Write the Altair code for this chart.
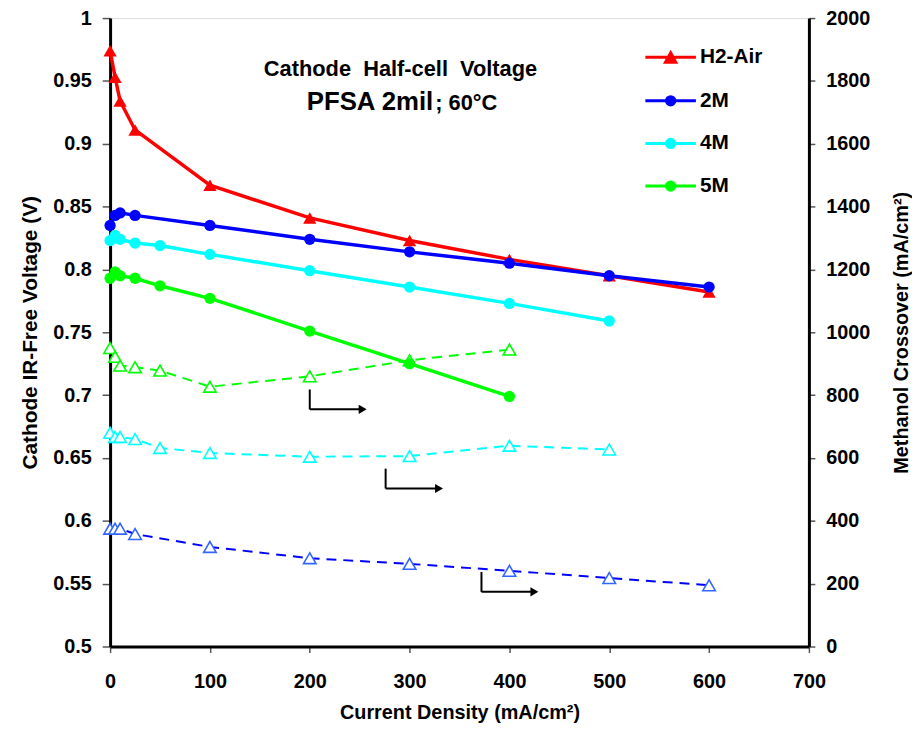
import altair as alt
import pandas as pd

FONT = "Liberation Sans"

series_names = ["H2-Air", "2M", "4M", "5M"]
series_colors = ["#FF0000", "#0000FF", "#00FFFF", "#00FF00"]
crossover_marker_colors = {"2M": "#3366FF", "4M": "#00FFFF", "5M": "#00FF00"}

# Cathode IR-free voltage (V) -- left axis
h2_current = [0, 5, 10, 25, 100, 200, 300, 400, 500, 600]
h2_voltage = [0.974, 0.953, 0.934, 0.911, 0.867, 0.841, 0.823, 0.808, 0.795, 0.782]
m2_current = [0, 5, 10, 25, 100, 200, 300, 400, 500, 600]
m2_voltage = [0.835, 0.843, 0.845, 0.843, 0.835, 0.824, 0.814, 0.805, 0.795, 0.786]
m4_current = [0, 5, 10, 25, 50, 100, 200, 300, 400, 500]
m4_voltage = [0.823, 0.827, 0.824, 0.821, 0.819, 0.812, 0.799, 0.786, 0.773, 0.759]
m5_current = [0, 5, 10, 25, 50, 100, 200, 300, 400]
m5_voltage = [0.793, 0.798, 0.795, 0.793, 0.787, 0.777, 0.751, 0.725, 0.699]

# Methanol crossover (mA/cm2) -- right axis
x2_current = [0, 5, 10, 25, 100, 200, 300, 400, 500, 600]
x2_crossover = [375, 375, 375, 358, 317, 281, 263, 241, 218, 195]
x4_current = [0, 5, 10, 25, 50, 100, 200, 300, 400, 500]
x4_crossover = [680, 667, 667, 660, 632, 616, 604, 606, 639, 627]
x5_current = [0, 5, 10, 25, 50, 100, 200, 300, 400]
x5_crossover = [950, 922, 894, 889, 878, 827, 860, 911, 945]

# "read on right axis" arrows (voltage-axis coordinates)
arrow_series = ["5M", "4M", "2M"]
arrow_x = [200, 276, 372]
arrow_top = [0.7045, 0.6415, 0.5593]
arrow_bottom = [0.6887, 0.6257, 0.5435]
arrow_end = [253, 329.5, 425]

x_ticks = [0, 100, 200, 300, 400, 500, 600, 700]
v_ticks = [0.5, 0.55, 0.6, 0.65, 0.7, 0.75, 0.8, 0.85, 0.9, 0.95, 1.0]
c_ticks = [0, 200, 400, 600, 800, 1000, 1200, 1400, 1600, 1800, 2000]

title_line1 = "Cathode\u00a0 Half-cell\u00a0 Voltage"
title_line2a = "PFSA 2mil"
title_line2b = "; 60°C"

color_of = dict(zip(series_names, series_colors))

volt = pd.concat([
    pd.DataFrame({"series": "H2-Air", "current": h2_current, "voltage": h2_voltage}),
    pd.DataFrame({"series": "2M", "current": m2_current, "voltage": m2_voltage}),
    pd.DataFrame({"series": "4M", "current": m4_current, "voltage": m4_voltage}),
    pd.DataFrame({"series": "5M", "current": m5_current, "voltage": m5_voltage}),
], ignore_index=True)
volt["col"] = volt["series"].map(color_of)

xo = pd.concat([
    pd.DataFrame({"series": "2M", "current": x2_current, "crossover": x2_crossover}),
    pd.DataFrame({"series": "4M", "current": x4_current, "crossover": x4_crossover}),
    pd.DataFrame({"series": "5M", "current": x5_current, "crossover": x5_crossover}),
], ignore_index=True)
xo["col"] = xo["series"].map(color_of)
xo["mcol"] = xo["series"].map(crossover_marker_colors)

arrows = pd.DataFrame({"series": arrow_series, "x0": arrow_x, "ytop": arrow_top,
                       "ybot": arrow_bottom, "xend": arrow_end})

lab = dict(labelFont=FONT, labelFontSize=20, labelFontWeight="bold", labelColor="black",
           titleFont=FONT, titleFontWeight="bold", titleColor="black",
           domainColor="black", domainWidth=3, tickColor="#555555", tickWidth=1.5,
           grid=False, labelOverlap=False)

x_enc = alt.X("current:Q", scale=alt.Scale(domain=[0, 700], nice=False),
              axis=alt.Axis(title="Current Density (mA/cm²)", values=x_ticks, format="d",
                            tickSize=6, labelPadding=35, labelBaseline="alphabetic",
                            labelFlush=False, titleBaseline="alphabetic", titleY=73,
                            titleFontSize=20, **lab))
y_v = alt.Y("voltage:Q", scale=alt.Scale(domain=[0.5, 1.0], nice=False, zero=False),
            axis=alt.Axis(orient="left", title="Cathode IR-Free Voltage (V)", values=v_ticks,
                          format="~g", tickSize=8, labelPadding=11, titleAngle=270,
                          titleBaseline="alphabetic", titleX=-74, titleY=317,
                          titleFontSize=21, **lab))
y_c = alt.Y("crossover:Q", scale=alt.Scale(domain=[0, 2000], nice=False),
            axis=alt.Axis(orient="right", title="Methanol Crossover  (mA/cm²)", values=c_ticks,
                          format="d", tickSize=6, labelPadding=11, titleAngle=270,
                          titleBaseline="alphabetic", titleX=99, titleY=317,
                          titleFontSize=20, **lab))

col_enc = alt.Color("col:N", scale=None)

# ---- right-axis layer (crossover, dashed, open triangles)
xo_line = alt.Chart(xo).mark_line(strokeWidth=2, strokeDash=[10, 7]).encode(
    x=x_enc, y=y_c, color=col_enc, detail="series:N")
xo_pts = alt.Chart(xo).mark_point(shape="triangle-up", size=160, strokeWidth=1.6,
                                  filled=False, fill="white", opacity=1).encode(
    x=x_enc, y=y_c, stroke=alt.Stroke("mcol:N", scale=None))
right_layer = alt.layer(xo_line, xo_pts)

# ---- left-axis layer (voltage)
v_line = alt.Chart(volt).mark_line(strokeWidth=3.5).encode(
    x=x_enc, y=y_v, color=col_enc, detail="series:N")
v_tri = alt.Chart(volt).transform_filter("datum.series == 'H2-Air'").mark_point(
    shape="triangle-up", size=180, filled=True, opacity=1).encode(x=x_enc, y=y_v, color=col_enc)
v_circ = alt.Chart(volt).transform_filter("datum.series != 'H2-Air'").mark_point(
    shape="circle", size=130, filled=True, opacity=1).encode(x=x_enc, y=y_v, color=col_enc)

arr_v = alt.Chart(arrows).mark_rule(color="black", strokeWidth=2).encode(
    x=alt.X("x0:Q"), y=alt.Y("ytop:Q"), y2="ybot:Q")
arr_h = alt.Chart(arrows).mark_rule(color="black", strokeWidth=2).encode(
    x=alt.X("x0:Q"), x2="xend:Q", y=alt.Y("ybot:Q"))
arr_head = alt.Chart(arrows).mark_point(shape="triangle-right", size=85, filled=True,
                                        color="black", opacity=1).encode(
    x=alt.X("xend:Q"), y=alt.Y("ybot:Q"))

t1 = alt.Chart(pd.DataFrame({"t": [title_line1]})).mark_text(
    font=FONT, fontSize=22, fontWeight="bold", color="black", align="center",
    baseline="alphabetic").encode(text="t:N", x=alt.value(293), y=alt.value(58))
t2 = alt.Chart(pd.DataFrame({"t": [title_line2a]})).mark_text(
    font=FONT, fontSize=26, fontWeight="bold", color="black", align="right",
    baseline="alphabetic").encode(text="t:N", x=alt.value(326), y=alt.value(93))
t3 = alt.Chart(pd.DataFrame({"t": [title_line2b]})).mark_text(
    font=FONT, fontSize=22, fontWeight="bold", color="black", align="left",
    baseline="alphabetic").encode(text="t:N", x=alt.value(328), y=alt.value(93))

# legend: line + marker symbols
legend_paths = [
    "M-2.55,0H2.55M0,-0.45L0.52,0.5L-0.52,0.5Z",
    "M-2.55,0H2.55M0.42,0A0.42,0.42 0 1 1 -0.42,0A0.42,0.42 0 1 1 0.42,0Z",
    "M-2.55,0H2.55M0.42,0A0.42,0.42 0 1 1 -0.42,0A0.42,0.42 0 1 1 0.42,0Z",
    "M-2.55,0H2.55M0.42,0A0.42,0.42 0 1 1 -0.42,0A0.42,0.42 0 1 1 0.42,0Z",
]


def mk_legend():
    return alt.Legend(title=None, orient="none", legendX=554, legendY=28, symbolSize=400,
                      symbolStrokeWidth=3, symbolOpacity=1, labelFont=FONT, labelFontSize=21,
                      labelFontWeight="bold", labelColor="black", labelOffset=18,
                      rowPadding=21, padding=0)


legend_layer = alt.Chart(volt).mark_point(size=400, opacity=0, strokeWidth=3).encode(
    x=x_enc, y=y_v,
    fill=alt.Fill("series:N", scale=alt.Scale(domain=series_names, range=series_colors),
                  legend=mk_legend()),
    stroke=alt.Stroke("series:N", scale=alt.Scale(domain=series_names, range=series_colors),
                      legend=mk_legend()),
    shape=alt.Shape("series:N", scale=alt.Scale(domain=series_names, range=legend_paths),
                    legend=mk_legend()),
)

left_layer = alt.layer(v_line, v_tri, v_circ, arr_v, arr_h, arr_head, t1, t2, t3, legend_layer)

chart = alt.layer(right_layer, left_layer).resolve_scale(y="independent").properties(
    width=705, height=634,
    autosize=alt.AutoSizeParams(type="none"),
    padding={"left": 103, "top": 7, "right": 104, "bottom": 75},
).configure_view(stroke="transparent").configure(font=FONT)

chart.save("out.html", embed_options={"renderer": "svg", "actions": False})
